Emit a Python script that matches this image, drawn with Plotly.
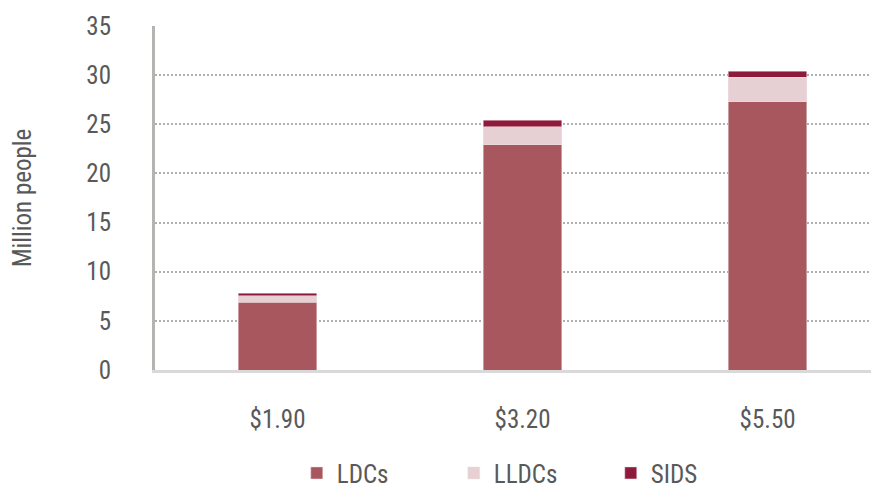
import plotly.graph_objects as go

thresholds = ["$1.90", "$3.20", "$5.50"]
ldcs = [6.9, 22.9, 27.3]
lldcs = [0.63, 1.85, 2.48]
sids = [0.3, 0.65, 0.6]

series = [
    ("LDCs", ldcs, "#a8575e"),
    ("LLDCs", lldcs, "#e6d0d3"),
    ("SIDS", sids, "#8e1b3c"),
]

FONT = "Liberation Sans Narrow, Roboto Condensed, DejaVu Sans Condensed, Roboto"

fig = go.Figure()
for name, vals, col in series:
    fig.add_trace(go.Bar(
        x=thresholds, y=vals, name=name,
        marker=dict(color=col, line=dict(color="#f0e0e2", width=0.5)),
        width=0.32,
    ))

# page body adds 8px on every side, so the figure is 16px smaller than the window
fig.update_layout(
    barmode="stack",
    width=863, height=485,
    margin=dict(l=147, r=0, t=18, b=123, autoexpand=False),
    plot_bgcolor="white", paper_bgcolor="white",
    font=dict(family=FONT, size=25, color="#595959"),
    showlegend=True,
    legend=dict(
        orientation="h", x=0.198, xanchor="left", y=-0.30, yanchor="middle",
        font=dict(size=25, color="#595959"), entrywidth=112, traceorder="normal",
    ),
)
fig.update_xaxes(
    range=[-0.5, 2.422],
    showline=True, linecolor="#d9d9d9", linewidth=3,
    ticks="", ticklabelstandoff=25,
)
fig.update_yaxes(
    range=[0, 35], dtick=5,
    showgrid=True, gridcolor="#b0b0b0", griddash="2px,2px", gridwidth=2,
    showline=True, linecolor="#b3b5b0", linewidth=3, mirror=True,
    zeroline=False, ticks="", ticklabelstandoff=36,
    title=dict(text="Million people", standoff=50, font=dict(size=25)),
)

fig.write_html("out.html")
